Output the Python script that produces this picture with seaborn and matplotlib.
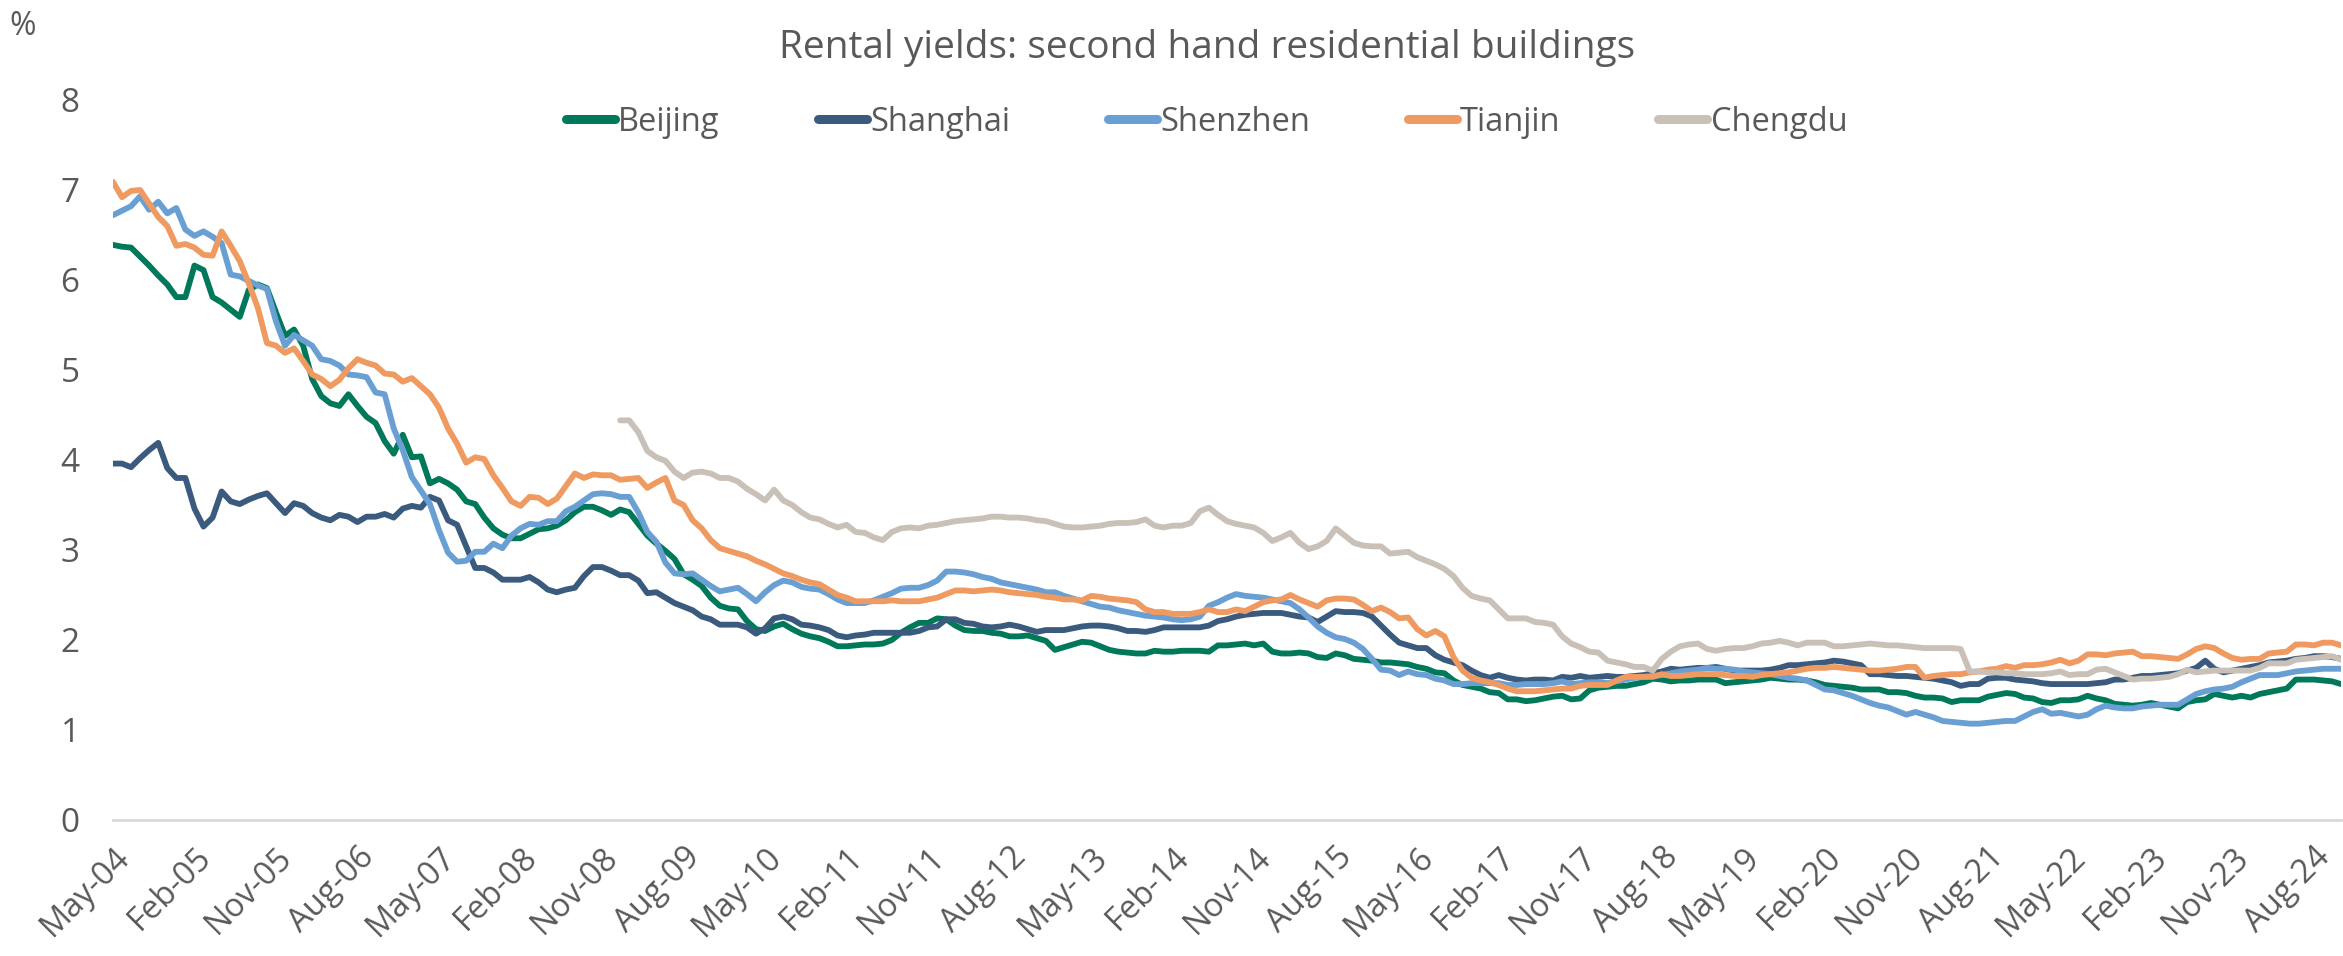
import numpy as np
import pandas as pd
import matplotlib
matplotlib.use("Agg")
import matplotlib.pyplot as plt
import seaborn as sns

# monthly rental yields (%), May-04 .. Nov-24
beijing = [
    6.39, 6.37, 6.36, 6.26, 6.16, 6.05, 5.95, 5.81, 5.81, 6.16,
    6.11, 5.81, 5.75, 5.67, 5.59, 5.89, 5.95, 5.91, 5.64, 5.38,
    5.45, 5.27, 4.90, 4.71, 4.63, 4.60, 4.73, 4.60, 4.48, 4.41,
    4.21, 4.07, 4.28, 4.03, 4.04, 3.74, 3.79, 3.74, 3.67, 3.54,
    3.51, 3.36, 3.24, 3.17, 3.13, 3.13, 3.18, 3.23, 3.24, 3.27,
    3.33, 3.42, 3.48, 3.48, 3.44, 3.39, 3.45, 3.42, 3.29, 3.16,
    3.07, 2.99, 2.90, 2.73, 2.67, 2.60, 2.47, 2.38, 2.35, 2.34,
    2.21, 2.12, 2.10, 2.15, 2.18, 2.12, 2.07, 2.04, 2.02, 1.98,
    1.93, 1.93, 1.94, 1.95, 1.95, 1.96, 2.00, 2.08, 2.14, 2.19,
    2.19, 2.24, 2.23, 2.16, 2.11, 2.10, 2.10, 2.08, 2.07, 2.04,
    2.04, 2.05, 2.02, 1.99, 1.89, 1.92, 1.95, 1.98, 1.97, 1.93,
    1.89, 1.87, 1.86, 1.85, 1.85, 1.88, 1.87, 1.87, 1.88, 1.88,
    1.88, 1.87, 1.94, 1.94, 1.95, 1.96, 1.94, 1.96, 1.87, 1.85,
    1.85, 1.86, 1.85, 1.81, 1.80, 1.85, 1.83, 1.79, 1.78, 1.77,
    1.75, 1.75, 1.74, 1.73, 1.70, 1.68, 1.64, 1.63, 1.55, 1.50,
    1.48, 1.46, 1.42, 1.41, 1.34, 1.34, 1.32, 1.33, 1.35, 1.37,
    1.38, 1.34, 1.35, 1.44, 1.47, 1.48, 1.49, 1.49, 1.51, 1.53,
    1.57, 1.56, 1.54, 1.55, 1.55, 1.56, 1.56, 1.56, 1.52, 1.53,
    1.54, 1.55, 1.56, 1.58, 1.57, 1.56, 1.56, 1.55, 1.53, 1.50,
    1.49, 1.48, 1.47, 1.45, 1.45, 1.45, 1.42, 1.42, 1.41, 1.38,
    1.36, 1.36, 1.35, 1.31, 1.33, 1.33, 1.33, 1.37, 1.39, 1.41,
    1.40, 1.36, 1.35, 1.31, 1.30, 1.33, 1.33, 1.34, 1.38, 1.35,
    1.33, 1.29, 1.28, 1.27, 1.28, 1.30, 1.28, 1.26, 1.24, 1.31,
    1.33, 1.34, 1.40, 1.38, 1.36, 1.38, 1.36, 1.40, 1.42, 1.44,
    1.46, 1.56, 1.56, 1.56, 1.55, 1.54, 1.51,
]

shanghai = [
    3.96, 3.96, 3.92, 4.02, 4.11, 4.19, 3.91, 3.80, 3.80, 3.46,
    3.26, 3.36, 3.65, 3.54, 3.51, 3.56, 3.60, 3.63, 3.52, 3.41,
    3.52, 3.49, 3.41, 3.36, 3.33, 3.39, 3.37, 3.31, 3.37, 3.37,
    3.40, 3.36, 3.46, 3.49, 3.47, 3.59, 3.55, 3.33, 3.28, 3.04,
    2.80, 2.80, 2.75, 2.67, 2.67, 2.67, 2.70, 2.64, 2.56, 2.53,
    2.56, 2.58, 2.71, 2.81, 2.81, 2.77, 2.72, 2.72, 2.66, 2.52,
    2.53, 2.47, 2.41, 2.37, 2.33, 2.26, 2.23, 2.17, 2.17, 2.17,
    2.14, 2.07, 2.13, 2.24, 2.26, 2.23, 2.17, 2.16, 2.14, 2.11,
    2.05, 2.03, 2.05, 2.06, 2.08, 2.08, 2.08, 2.08, 2.08, 2.10,
    2.14, 2.15, 2.23, 2.23, 2.19, 2.18, 2.15, 2.14, 2.15, 2.17,
    2.15, 2.12, 2.09, 2.11, 2.11, 2.11, 2.13, 2.15, 2.16, 2.16,
    2.15, 2.13, 2.10, 2.10, 2.09, 2.11, 2.14, 2.14, 2.14, 2.14,
    2.14, 2.16, 2.21, 2.23, 2.26, 2.28, 2.29, 2.30, 2.30, 2.30,
    2.28, 2.26, 2.25, 2.20, 2.26, 2.32, 2.31, 2.31, 2.30, 2.26,
    2.16, 2.06, 1.97, 1.94, 1.91, 1.91, 1.83, 1.78, 1.75, 1.72,
    1.66, 1.61, 1.58, 1.61, 1.58, 1.56, 1.55, 1.56, 1.56, 1.55,
    1.59, 1.58, 1.60, 1.58, 1.59, 1.60, 1.59, 1.59, 1.60, 1.61,
    1.63, 1.65, 1.68, 1.67, 1.68, 1.69, 1.69, 1.70, 1.68, 1.66,
    1.66, 1.66, 1.66, 1.67, 1.69, 1.72, 1.72, 1.73, 1.74, 1.75,
    1.77, 1.76, 1.74, 1.72, 1.62, 1.62, 1.61, 1.60, 1.60, 1.59,
    1.58, 1.57, 1.55, 1.53, 1.49, 1.51, 1.51, 1.57, 1.58, 1.58,
    1.56, 1.55, 1.54, 1.52, 1.51, 1.51, 1.51, 1.51, 1.51, 1.52,
    1.53, 1.56, 1.56, 1.58, 1.60, 1.60, 1.61, 1.62, 1.63, 1.66,
    1.69, 1.77, 1.68, 1.64, 1.66, 1.68, 1.70, 1.72, 1.75, 1.76,
    1.77, 1.79, 1.80, 1.82, 1.82, 1.81, 1.79,
]

shenzhen = [
    6.72, 6.77, 6.82, 6.93, 6.78, 6.87, 6.74, 6.80, 6.56, 6.49,
    6.54, 6.48, 6.41, 6.06, 6.04, 5.99, 5.94, 5.90, 5.54, 5.27,
    5.39, 5.33, 5.27, 5.12, 5.10, 5.05, 4.95, 4.94, 4.92, 4.75,
    4.73, 4.35, 4.11, 3.81, 3.66, 3.51, 3.22, 2.97, 2.87, 2.88,
    2.98, 2.98, 3.07, 3.02, 3.16, 3.24, 3.29, 3.28, 3.32, 3.32,
    3.43, 3.48, 3.55, 3.62, 3.63, 3.62, 3.59, 3.59, 3.42, 3.20,
    3.09, 2.86, 2.74, 2.73, 2.74, 2.67, 2.60, 2.54, 2.56, 2.58,
    2.51, 2.43, 2.53, 2.61, 2.66, 2.64, 2.59, 2.57, 2.56, 2.51,
    2.45, 2.41, 2.41, 2.41, 2.44, 2.48, 2.52, 2.57, 2.58, 2.58,
    2.61, 2.66, 2.76, 2.76, 2.75, 2.73, 2.70, 2.68, 2.64, 2.62,
    2.60, 2.58, 2.56, 2.53, 2.53, 2.49, 2.46, 2.43, 2.40, 2.37,
    2.36, 2.33, 2.31, 2.29, 2.27, 2.26, 2.25, 2.23, 2.22, 2.23,
    2.26, 2.38, 2.42, 2.47, 2.51, 2.49, 2.48, 2.47, 2.45, 2.43,
    2.41, 2.34, 2.25, 2.15, 2.08, 2.03, 2.01, 1.97, 1.90, 1.79,
    1.67, 1.66, 1.61, 1.65, 1.62, 1.61, 1.57, 1.55, 1.51, 1.51,
    1.52, 1.52, 1.52, 1.52, 1.50, 1.50, 1.51, 1.51, 1.51, 1.52,
    1.54, 1.51, 1.52, 1.53, 1.53, 1.52, 1.54, 1.56, 1.58, 1.59,
    1.60, 1.61, 1.63, 1.65, 1.66, 1.67, 1.69, 1.68, 1.68, 1.67,
    1.65, 1.64, 1.63, 1.62, 1.60, 1.58, 1.57, 1.55, 1.50, 1.45,
    1.44, 1.41, 1.38, 1.34, 1.30, 1.27, 1.25, 1.21, 1.17, 1.20,
    1.17, 1.14, 1.10, 1.09, 1.08, 1.07, 1.07, 1.08, 1.09, 1.10,
    1.10, 1.15, 1.20, 1.23, 1.18, 1.19, 1.17, 1.15, 1.17, 1.23,
    1.27, 1.25, 1.24, 1.24, 1.26, 1.27, 1.28, 1.28, 1.28, 1.34,
    1.40, 1.43, 1.45, 1.46, 1.48, 1.53, 1.57, 1.61, 1.61, 1.61,
    1.63, 1.65, 1.66, 1.67, 1.68, 1.68, 1.68,
]

tianjin = [
    7.09, 6.92, 6.99, 7.00, 6.85, 6.70, 6.60, 6.38, 6.40, 6.36,
    6.28, 6.27, 6.54, 6.38, 6.21, 5.96, 5.69, 5.30, 5.27, 5.19,
    5.24, 5.10, 4.95, 4.90, 4.82, 4.89, 5.02, 5.12, 5.08, 5.05,
    4.96, 4.95, 4.87, 4.91, 4.82, 4.73, 4.58, 4.35, 4.18, 3.97,
    4.03, 4.01, 3.83, 3.69, 3.54, 3.49, 3.59, 3.58, 3.51, 3.57,
    3.71, 3.85, 3.80, 3.84, 3.83, 3.83, 3.78, 3.79, 3.80, 3.69,
    3.75, 3.80, 3.55, 3.50, 3.33, 3.24, 3.11, 3.02, 2.99, 2.96,
    2.93, 2.88, 2.84, 2.79, 2.74, 2.71, 2.67, 2.64, 2.62, 2.56,
    2.50, 2.47, 2.43, 2.43, 2.43, 2.43, 2.44, 2.43, 2.43, 2.43,
    2.45, 2.47, 2.51, 2.55, 2.55, 2.54, 2.55, 2.56, 2.55, 2.53,
    2.52, 2.51, 2.50, 2.48, 2.47, 2.45, 2.45, 2.44, 2.49, 2.48,
    2.46, 2.45, 2.44, 2.42, 2.34, 2.31, 2.31, 2.29, 2.29, 2.29,
    2.31, 2.34, 2.31, 2.31, 2.34, 2.32, 2.37, 2.42, 2.44, 2.45,
    2.50, 2.45, 2.41, 2.37, 2.44, 2.46, 2.46, 2.45, 2.39, 2.32,
    2.36, 2.31, 2.24, 2.25, 2.12, 2.05, 2.10, 2.04, 1.81, 1.66,
    1.58, 1.55, 1.53, 1.50, 1.46, 1.43, 1.43, 1.43, 1.44, 1.45,
    1.46, 1.46, 1.49, 1.50, 1.50, 1.50, 1.55, 1.59, 1.59, 1.59,
    1.59, 1.62, 1.60, 1.60, 1.61, 1.62, 1.62, 1.62, 1.61, 1.60,
    1.60, 1.59, 1.61, 1.62, 1.63, 1.64, 1.66, 1.68, 1.69, 1.69,
    1.70, 1.69, 1.68, 1.67, 1.66, 1.66, 1.67, 1.68, 1.70, 1.70,
    1.58, 1.60, 1.61, 1.62, 1.62, 1.64, 1.65, 1.67, 1.68, 1.71,
    1.69, 1.72, 1.72, 1.73, 1.75, 1.78, 1.74, 1.77, 1.84, 1.84,
    1.83, 1.85, 1.86, 1.87, 1.82, 1.82, 1.81, 1.80, 1.79, 1.84,
    1.90, 1.93, 1.91, 1.85, 1.80, 1.78, 1.79, 1.79, 1.85, 1.86,
    1.87, 1.95, 1.95, 1.94, 1.97, 1.97, 1.94,
]

# Chengdu series only starts in Jan-09
chengdu_start = 56
chengdu = [
    4.44, 4.44, 4.31, 4.10,
    4.03, 3.99, 3.87, 3.80, 3.86, 3.87, 3.85, 3.80, 3.80, 3.76,
    3.68, 3.62, 3.55, 3.67, 3.55, 3.50, 3.42, 3.36, 3.34, 3.29,
    3.25, 3.28, 3.20, 3.19, 3.14, 3.11, 3.20, 3.24, 3.25, 3.24,
    3.27, 3.28, 3.30, 3.32, 3.33, 3.34, 3.35, 3.37, 3.37, 3.36,
    3.36, 3.35, 3.33, 3.32, 3.29, 3.26, 3.25, 3.25, 3.26, 3.27,
    3.29, 3.30, 3.30, 3.31, 3.34, 3.27, 3.25, 3.27, 3.27, 3.30,
    3.43, 3.47, 3.39, 3.32, 3.29, 3.27, 3.25, 3.19, 3.10, 3.14,
    3.19, 3.08, 3.01, 3.04, 3.10, 3.24, 3.16, 3.08, 3.05, 3.04,
    3.04, 2.96, 2.97, 2.98, 2.92, 2.88, 2.84, 2.79, 2.71, 2.58,
    2.49, 2.46, 2.44, 2.34, 2.24, 2.24, 2.24, 2.20, 2.19, 2.17,
    2.04, 1.96, 1.92, 1.87, 1.86, 1.77, 1.75, 1.73, 1.70, 1.70,
    1.66, 1.79, 1.87, 1.93, 1.95, 1.96, 1.90, 1.88, 1.90, 1.91,
    1.91, 1.93, 1.96, 1.97, 1.99, 1.97, 1.94, 1.97, 1.97, 1.97,
    1.93, 1.93, 1.94, 1.95, 1.96, 1.95, 1.94, 1.94, 1.93, 1.92,
    1.91, 1.91, 1.91, 1.91, 1.90, 1.65, 1.65, 1.64, 1.64, 1.63,
    1.63, 1.62, 1.62, 1.62, 1.63, 1.65, 1.61, 1.62, 1.62, 1.67,
    1.68, 1.64, 1.60, 1.56, 1.57, 1.57, 1.58, 1.59, 1.62, 1.67,
    1.64, 1.65, 1.66, 1.66, 1.66, 1.66, 1.66, 1.69, 1.74, 1.74,
    1.74, 1.78, 1.79, 1.80, 1.81, 1.82, 1.78,
]

cities = ["Beijing", "Shanghai", "Shenzhen", "Tianjin", "Chengdu"]
colors = ["#00785A", "#3A5A7E", "#6A9FD4", "#EE9A60", "#C9C0B8"]

tick_labels = ["May-04", "Feb-05", "Nov-05", "Aug-06", "May-07", "Feb-08", "Nov-08",
               "Aug-09", "May-10", "Feb-11", "Nov-11", "Aug-12", "May-13", "Feb-14",
               "Nov-14", "Aug-15", "May-16", "Feb-17", "Nov-17", "Aug-18", "May-19",
               "Feb-20", "Nov-20", "Aug-21", "May-22", "Feb-23", "Nov-23", "Aug-24"]

# long-form table for seaborn
frames = []
for name, vals, start in [("Beijing", beijing, 0), ("Shanghai", shanghai, 0),
                          ("Shenzhen", shenzhen, 0), ("Tianjin", tianjin, 0),
                          ("Chengdu", chengdu, chengdu_start)]:
    frames.append(pd.DataFrame({"month": np.arange(start, start + len(vals)),
                                "value": vals, "city": name}))
df = pd.concat(frames, ignore_index=True)

sns.set_style("white")
plt.rcParams["font.family"] = ["Open Sans", "DejaVu Sans"]
grey = "#595959"

fig = plt.figure(figsize=(23.43, 9.56), dpi=100)
ax = fig.add_axes([0.0482, 0.1423, 0.951, 0.7531])

sns.lineplot(data=df, x="month", y="value", hue="city", hue_order=cities,
             palette=colors, linewidth=4.2, ax=ax,
             solid_joinstyle="round", solid_capstyle="round")

handles, labels = ax.get_legend_handles_labels()
ax.get_legend().remove()
for h in handles:
    h.set_linewidth(6.5)
    h.set_solid_capstyle("round")
fig.legend(handles, labels, loc="center", bbox_to_anchor=(0.515, 0.872), ncol=5,
           frameon=False, fontsize=23.5, labelcolor=grey, handlelength=1.5,
           handletextpad=0.1, columnspacing=3.0)

ax.set_xlim(0, 246)
ax.set_ylim(0, 8)
ax.set_yticks(range(0, 9))
ax.set_xticks(range(0, 247, 9))
ax.set_xticklabels(tick_labels, rotation=45, ha="right", va="top",
                   rotation_mode="anchor")
ax.set_xlabel("")
ax.set_ylabel("")

for side in ["top", "right", "left"]:
    ax.spines[side].set_visible(False)
ax.spines["bottom"].set_color("#D9D9D9")
ax.spines["bottom"].set_linewidth(2)
ax.tick_params(axis="x", colors="#D9D9D9", length=9, width=1.6, direction="out",
               labelcolor=grey, labelsize=23.5, pad=6)
ax.tick_params(axis="y", length=0, labelcolor=grey, labelsize=24, pad=24)

fig.text(0.515, 0.95, "Rental yields: second hand residential buildings",
         ha="center", va="center", fontsize=28, color=grey)
fig.text(0.004, 0.972, "%", ha="left", va="center", fontsize=23, color=grey)

fig.savefig("out.png", dpi=100)
